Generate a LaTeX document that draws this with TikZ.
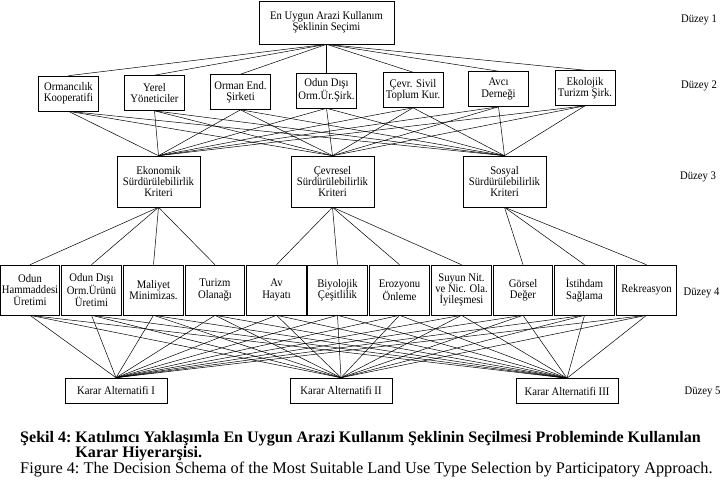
\documentclass[tikz,border=0pt]{standalone}
\usepackage{fontspec}
\setmainfont{Liberation Serif}
\newfontfamily\boxfam{Liberation Serif}[FakeStretch=0.92]
\newcommand{\boxfont}{\boxfam\fontsize{11.6}{11.4}\selectfont}
\newcommand{\capboldfont}{\frenchspacing\fontsize{16.05}{16}\selectfont\bfseries}
\newcommand{\capfont}{\frenchspacing\fontsize{16.3}{16}\selectfont}
\begin{document}
\begin{tikzpicture}[x=1pt,y=-1pt,
  bx/.style={draw, line width=0.6pt, inner sep=0pt, align=center, font=\boxfont},
  lv2/.style={bx, minimum width=60pt, minimum height=35pt},
  lv3/.style={bx, minimum width=83pt, minimum height=51pt},
  lv4/.style={bx, minimum width=59.5pt, minimum height=50pt},
  lv5/.style={bx, minimum width=102pt, minimum height=25pt},
  lvl/.style={anchor=west, inner sep=0pt, font=\boxfont},
  ln/.style={line width=0.5pt}]
\useasboundingbox (0,0) rectangle (721,482);
% level 1
\node[bx, minimum width=135pt, minimum height=43pt] (t) at (326.5,22.5) {En Uygun Arazi Kullanım\\Şeklinin Seçimi};
% level 2
\node[lv2] (a1) at (68.5,93.5) {Ormancılık\\Kooperatifi};
\node[lv2] (a2) at (154.5,93) {Yerel\\Yöneticiler};
\node[lv2] (a3) at (240.5,92) {Orman End.\\Şirketi};
\node[lv2] (a4) at (326.5,90.5) {Odun Dışı\\Orm.Ür.Şirk.};
\node[lv2] (a5) at (413,90) {Çevr. Sivil\\Toplum Kur.};
\node[lv2] (a6) at (498.5,89) {Avcı\\Derneği};
\node[lv2] (a7) at (585,88) {Ekolojik\\Turizm Şirk.};
% level 3
\node[lv3] (c1) at (158.5,181.5) {Ekonomik\\Sürdürülebilirlik\\Kriteri};
\node[lv3] (c2) at (332.5,181.5) {Çevresel\\Sürdürülebilirlik\\Kriteri};
\node[lv3] (c3) at (504.5,181.5) {Sosyal\\Sürdürülebilirlik\\Kriteri};
% level 4
\node[lv4] (d1) at (30,290) {Odun\\Hammaddesi\\Üretimi};
\node[lv4] (d2) at (91.5,290) {Odun Dışı\\Orm.Ürünü\\Üretimi};
\node[lv4] (d3) at (153.5,290) {Maliyet\\Minimizas.};
\node[lv4] (d4) at (215,290) {Turizm\\Olanağı};
\node[lv4] (d5) at (276.5,290) {Av\\Hayatı};
\node[lv4] (d6) at (337.5,290) {Biyolojik\\Çeşitlilik};
\node[lv4] (d7) at (399.5,290) {Erozyonu\\Önleme};
\node[lv4] (d8) at (461.5,290) {Suyun Nit.\\ve Nic. Ola.\\İyileşmesi};
\node[lv4] (d9) at (523,290) {Görsel\\Değer};
\node[lv4] (d10) at (584.5,290) {İstihdam\\Sağlama};
\node[lv4] (d11) at (646.5,290) {Rekreasyon};
% level 5
\node[lv5] (e1) at (116,390.5) {Karar Alternatifi I};
\node[lv5] (e2) at (341,390.5) {Karar Alternatifi II};
\node[lv5] (e3) at (567,391) {Karar Alternatifi III};
% level labels
\node[lvl] (l1) at (681,20) {Düzey 1};
\node[lvl] (l2) at (681,86) {Düzey 2};
\node[lvl] (l3) at (680,177) {Düzey 3};
\node[lvl] (l4) at (683.5,293) {Düzey 4};
\node[lvl] (l5) at (684.5,392) {Düzey 5};
% connectors
\foreach \i in {1,...,7} {\draw[ln] (t.south) -- (a\i.north);}
\foreach \i in {1,...,7} {\foreach \j in {1,2,3} {\draw[ln] (a\i.south) -- (c\j.north);}}
\foreach \i in {1,...,4} {\draw[ln] (c1.south) -- (d\i.north);}
\foreach \i in {5,...,8} {\draw[ln] (c2.south) -- (d\i.north);}
\foreach \i in {9,10,11} {\draw[ln] (c3.south) -- (d\i.north);}
\foreach \i in {1,...,11} {\foreach \j in {1,2,3} {\draw[ln] (d\i.south) -- (e\j.north);}}
% caption
\node[anchor=base west, inner sep=0pt, font=\capboldfont] (cap1) at (20,442) {Şekil 4: Katılımcı Yaklaşımla En Uygun Arazi Kullanım Şeklinin Seçilmesi Probleminde Kullanılan};
\node[anchor=base west, inner sep=0pt, font=\capboldfont] (cap2) at (20,457) {\hphantom{Şekil 4: }Karar Hiyerarşisi.};
\node[anchor=base west, inner sep=0pt, font=\capfont] (cap3) at (20,473) {Figure 4: The Decision Schema of the Most Suitable Land Use Type Selection by Participatory Approach.};
\end{tikzpicture}
\end{document}
